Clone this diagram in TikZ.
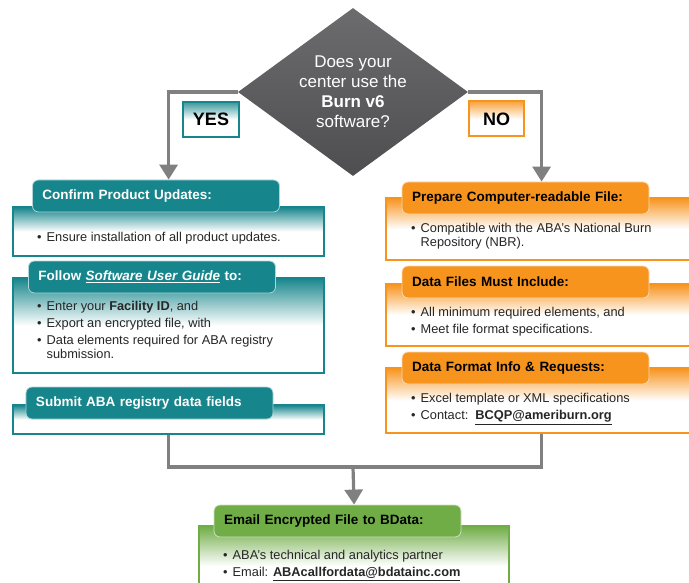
\documentclass[tikz,border=0pt]{standalone}
\usepackage{fontspec}
\setmainfont{Liberation Sans}
\usetikzlibrary{shapes.geometric, arrows.meta}
\tikzset{>={Triangle[width=18bp,length=15bp]}}

\definecolor{abateal}{RGB}{23,134,140}
\definecolor{abaorange}{RGB}{247,148,30}
\definecolor{abagreen}{RGB}{112,173,71}
\definecolor{conngray}{RGB}{128,128,128}
\definecolor{qtop}{RGB}{108,108,110}
\definecolor{qbottom}{RGB}{78,78,80}

\newcommand{\bul}{\makebox[9.5bp][l]{\textbullet}}
\newcommand{\contline}{\hspace*{9.5bp}}

\tikzset{
  question/.style={diamond, shape aspect=1.4, inner sep=0pt, minimum width=230bp, minimum height=168bp,
    top color=qtop, bottom color=qbottom, text=white, align=center,
    font=\fontsize{17bp}{20bp}\selectfont},
  answer/.style={draw=#1, line width=2bp, top color=#1!85, bottom color=white, middle color=white,
    minimum height=35bp, font=\fontsize{18bp}{20bp}\selectfont\bfseries},
  tab/.style={rounded corners=6bp, fill=#1, draw=white!65!#1, line width=0.8bp, minimum height=32bp,
    text width=227bp, inner xsep=10bp, inner ysep=0pt, align=left,
    font=\fontsize{13.5bp}{16bp}\selectfont\bfseries},
  body/.style={draw=#1, line width=2.2bp, top color=#1, bottom color=white, middle color=white,
    minimum width=311bp, anchor=north west, inner sep=0pt},
  bullets/.style={anchor=north west, align=left, inner sep=0pt, text=black!85,
    font=\fontsize{12.8bp}{14bp}\selectfont},
  conn/.style={draw=conngray, line width=3.2bp},
}

\begin{document}
\begin{tikzpicture}[x=1bp, y=-1bp]
\useasboundingbox (0,0) rectangle (689,583);
\clip (0,0) rectangle (689,583);

% Left column (YES)
\node[body=abateal, minimum height=49bp] (confirmbody) at (12,206) {};
\node[body=abateal, minimum height=95bp] (followbody) at (12,277) {};
\node[body=abateal, minimum height=29bp] (submitbody) at (12,404) {};

\node[tab=abateal, text=white] (confirm) at (156,196) {Confirm Product Updates:};
\node[tab=abateal, text=white] (follow) at (152,277) {Follow \underline{\textit{Software User Guide}} to:};
\node[tab=abateal, text=white] (submit) at (149.5,403) {Submit ABA registry data fields};

\node[bullets] (confirmtext) at (37,232.2) {\bul Ensure installation of all product updates.};
\node[bullets] (followtext) at (37,301.4) {\bul Enter your \textbf{Facility ID}, and\\[3bp]
  \bul Export an encrypted file, with\\[3bp]
  \bul Data elements required for ABA registry\\
  \contline submission.};

% Right column (NO)
\node[body=abaorange, minimum height=62bp] (preparebody) at (385,197) {};
\node[body=abaorange, minimum height=62bp] (filesbody) at (385,283) {};
\node[body=abaorange, minimum height=65bp] (formatbody) at (385,367) {};

\node[tab=abaorange] (prepare) at (525.5,198) {Prepare Computer-readable File:};
\node[tab=abaorange] (files) at (525.5,282) {Data Files Must Include:};
\node[tab=abaorange] (format) at (525.5,368) {Data Format Info \& Requests:};

\node[bullets] (preparetext) at (411,223) {\bul Compatible with the ABA's National Burn\\
  \contline Repository (NBR).};
\node[bullets] (filestext) at (411,306.7) {\bul All minimum required elements, and\\[3bp]
  \bul Meet file format specifications.};
\node[bullets] (formattext) at (411,393.4) {\bul Excel template or XML specifications\\[3bp]
  \bul Contact:\ \ \underline{\textbf{BCQP@ameriburn.org}}};

% Bottom (BData)
\node[body=abagreen, minimum width=310bp, minimum height=80bp] (emailbody) at (198,525) {};
\node[tab=abagreen] (email) at (337.5,521) {Email Encrypted File to BData:};
\node[bullets] (emailtext) at (223,550) {\bul ABA's technical and analytics partner\\[3bp]
  \bul Email: \underline{\textbf{ABAcallfordata@bdatainc.com}}};

% Question and answers
\node[question] (q) at (353,92) {Does your\\center use the\\\textbf{Burn v6}\\software?};
\node[answer=abateal, minimum width=56bp] (yes) at (211,119.5) {YES};
\node[answer=abaorange, minimum width=55bp] (no) at (496.5,119) {NO};

% Connectors
\coordinate (join) at (353,467);
\draw[conn, ->] (q.west) -| (confirmbody.north |- confirm.north);
\draw[conn, ->] (q.east) -| (preparebody.north |- prepare.north);
\draw[conn] (submitbody.south) |- (join) -| (formatbody.south);
\draw[conn, ->] (join) -- (emailbody.north |- email.north);

\end{tikzpicture}
\end{document}
